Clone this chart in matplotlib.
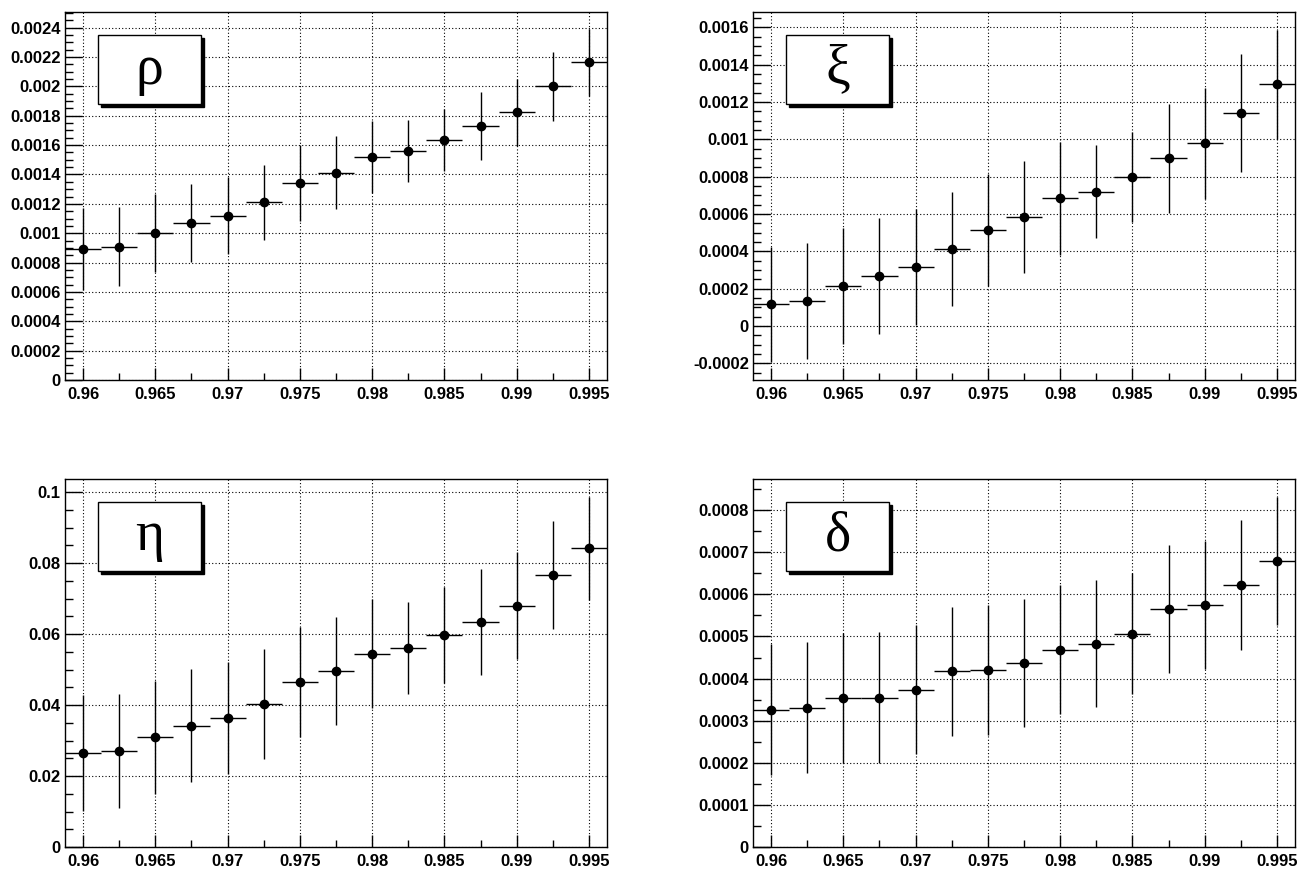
import matplotlib
matplotlib.use('Agg')
import matplotlib.pyplot as plt
from matplotlib.ticker import MultipleLocator, FuncFormatter
from matplotlib.patches import Rectangle

# bin centres (x) and half bin width
x_vals = [0.96, 0.9625, 0.965, 0.9675, 0.97, 0.9725, 0.975, 0.9775,
          0.98, 0.9825, 0.985, 0.9875, 0.99, 0.9925, 0.995]
x_half = 0.00125

# rho
rho_vals = [0.000895, 0.000908, 0.000999, 0.001070, 0.001119, 0.001212, 0.001340, 0.001413,
            0.001519, 0.001560, 0.001635, 0.001728, 0.001823, 0.002000, 0.002163]
rho_errs = [0.000280, 0.000268, 0.000265, 0.000267, 0.000262, 0.000255, 0.000258, 0.000246,
            0.000248, 0.000214, 0.000210, 0.000232, 0.000228, 0.000233, 0.000226]

# xi
xi_vals = [0.000116, 0.000134, 0.000214, 0.000268, 0.000318, 0.000414, 0.000516, 0.000586,
           0.000684, 0.000720, 0.000798, 0.000898, 0.000979, 0.001141, 0.001295]
xi_errs = [0.000310, 0.000312, 0.000312, 0.000310, 0.000310, 0.000305, 0.000300, 0.000300,
           0.000303, 0.000248, 0.000242, 0.000292, 0.000297, 0.000315, 0.000291]

# eta
eta_vals = [0.0264, 0.0270, 0.0309, 0.0342, 0.0364, 0.0402, 0.0464, 0.0496,
            0.0545, 0.0561, 0.0597, 0.0634, 0.0680, 0.0766, 0.0842]
eta_errs = [0.0163, 0.0161, 0.0160, 0.0159, 0.0157, 0.0155, 0.0155, 0.0151,
            0.0153, 0.0130, 0.0136, 0.0148, 0.0151, 0.0152, 0.0145]

# delta
delta_vals = [0.000326, 0.000331, 0.000354, 0.000355, 0.000374, 0.000417, 0.000420, 0.000437,
              0.000469, 0.000483, 0.000507, 0.000566, 0.000575, 0.000622, 0.000680]
delta_errs = [0.000155, 0.000156, 0.000154, 0.000155, 0.000154, 0.000154, 0.000155, 0.000152,
              0.000154, 0.000150, 0.000143, 0.000152, 0.000152, 0.000154, 0.000152]

panels = [
    # label, values, errors, ylim, major, minor, axes rect
    ('ρ', rho_vals, rho_errs, (0.0, 0.002507), 0.0002, 0.00005,
     [65 / 1306, 1 - 380 / 869, 542 / 1306, 368 / 869]),
    ('ξ', xi_vals, xi_errs, (-0.000289, 0.001682), 0.0002, 0.00005,
     [753 / 1306, 1 - 380 / 869, 542 / 1306, 368 / 869]),
    ('η', eta_vals, eta_errs, (0.0, 0.1037), 0.02, 0.005,
     [65 / 1306, 1 - 847 / 869, 542 / 1306, 368 / 869]),
    ('δ', delta_vals, delta_errs, (0.0, 0.000874), 0.0001, 0.00005,
     [753 / 1306, 1 - 847 / 869, 542 / 1306, 368 / 869]),
]

plt.rcParams['font.family'] = ['Liberation Sans', 'DejaVu Sans']

fig = plt.figure(figsize=(13.06, 8.69), dpi=100)
fig.patch.set_facecolor('white')

fmt = FuncFormatter(lambda v, pos: '%g' % round(v, 10))

for label, vals, errs, ylim, major, minor, rect in panels:
    ax = fig.add_axes(rect)
    ax.errorbar(x_vals, vals, xerr=x_half, yerr=errs, fmt='o', color='black',
                markersize=6, elinewidth=1.0, capsize=0, zorder=3)
    ax.set_xlim(0.95875, 0.99625)
    ax.set_ylim(*ylim)

    ax.xaxis.set_major_locator(MultipleLocator(0.005))
    ax.xaxis.set_minor_locator(MultipleLocator(0.0025))
    ax.yaxis.set_major_locator(MultipleLocator(major))
    ax.yaxis.set_minor_locator(MultipleLocator(minor))
    ax.xaxis.set_major_formatter(fmt)
    ax.yaxis.set_major_formatter(fmt)

    ax.grid(True, which='major', color='black', linestyle=(0, (1, 2)), linewidth=0.8)
    ax.set_axisbelow(True)

    ax.tick_params(axis='y', which='major', direction='in', length=12, width=1,
                   labelsize=12, pad=3, right=False)
    ax.tick_params(axis='y', which='minor', direction='in', length=6, width=1, right=False)
    ax.tick_params(axis='x', which='major', direction='in', length=9, width=1,
                   labelsize=12, pad=5, top=False)
    ax.tick_params(axis='x', which='minor', direction='in', length=5, width=1, top=False)
    for t in ax.get_xticklabels() + ax.get_yticklabels():
        t.set_fontweight('bold')
    for s in ax.spines.values():
        s.set_linewidth(1.0)

    # label box with shadow, in axes pixels relative to the frame
    bx, by, bw, bh = 33 / 542, 1 - 92 / 368, 103 / 542, 69 / 368
    shadow = Rectangle((bx + 3 / 542, by - 3 / 368), bw, bh, transform=ax.transAxes,
                       facecolor='black', edgecolor='black', zorder=5)
    box = Rectangle((bx, by), bw, bh, transform=ax.transAxes,
                    facecolor='white', edgecolor='black', linewidth=1.0, zorder=6)
    ax.add_patch(shadow)
    ax.add_patch(box)
    ax.text(bx + bw / 2, by + bh / 2, label, transform=ax.transAxes,
            ha='center', va='center', fontsize=40, family=['Liberation Serif', 'DejaVu Serif'],
            zorder=7)

fig.savefig('out.png', dpi=100, facecolor='white')
